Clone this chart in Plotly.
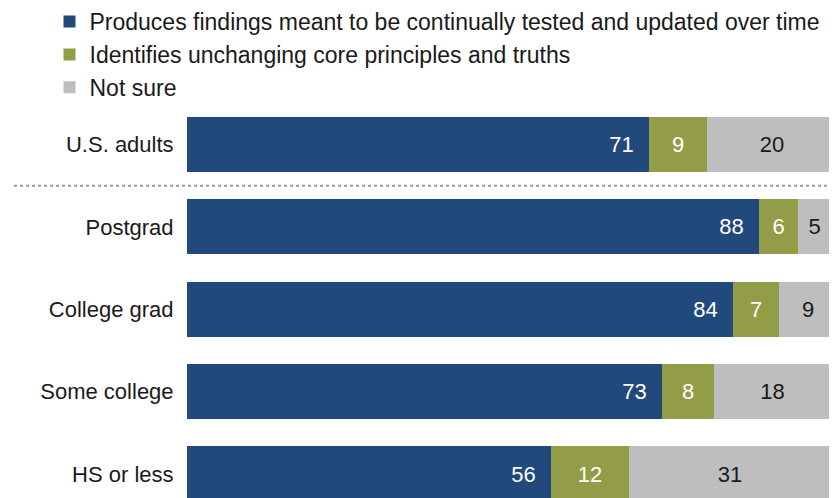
import plotly.graph_objects as go

categories = ["U.S. adults", "Postgrad", "College grad", "Some college", "HS or less"]
series_names = [
    "Produces findings meant to be continually tested and updated over time",
    "Identifies unchanging core principles and truths",
    "Not sure",
]
updated = [71, 88, 84, 73, 56]
unchanging = [9, 6, 7, 8, 12]
not_sure = [20, 5, 9, 18, 31]

colors = ["#21497C", "#939D48", "#BEBEBE"]
text_colors = ["white", "white", "#1a1a1a"]
anchors = ["end", "middle", "middle"]
suffix = ["\u00a0\u00a0", "", ""]

ypos = list(range(len(categories)))
fig = go.Figure()
for i, (name, vals) in enumerate(zip(series_names, [updated, unchanging, not_sure])):
    fig.add_trace(go.Bar(
        y=ypos, x=vals, name=name, orientation="h",
        marker=dict(color=colors[i], line=dict(width=0)),
        width=0.67,
        text=[str(v) + suffix[i] for v in vals],
        textposition="inside",
        insidetextanchor=anchors[i],
        textangle=0,
        textfont=dict(color=text_colors[i], size=22, family="Liberation Sans"),
        constraintext="none",
        legendgroup=str(i),
        hoverinfo="skip",
    ))

# page has an 8px body margin; figure coordinates are page - 8
pitch = 82.375
top_c = 144.5 - 8
H = 498
y_top = -top_c / pitch
y_bot = (H - top_c) / pitch
L = 187 - 8
PW = 650

fig.update_layout(
    width=837, height=498,
    margin=dict(l=L, r=837 - L - PW, t=0, b=0, autoexpand=False),
    barmode="stack",
    bargap=0,
    plot_bgcolor="white", paper_bgcolor="white",
    font=dict(family="Liberation Sans", size=22, color="#1a1a1a"),
    showlegend=True,
    legend=dict(
        x=(41.5 - L) / PW, y=1.016, xanchor="left", yanchor="top",
        traceorder="grouped", tracegroupgap=0,
        font=dict(size=23, color="#1a1a1a"),
        itemwidth=30, bgcolor="rgba(0,0,0,0)",
    ),
    xaxis=dict(range=[0, 100], visible=False, fixedrange=True),
    yaxis=dict(
        range=[y_bot, y_top],
        tickmode="array", tickvals=ypos, ticktext=categories,
        showgrid=False, zeroline=False, showline=False,
        ticks="outside", ticklen=8, tickcolor="white",
        tickfont=dict(size=22, color="#1a1a1a"),
    ),
    shapes=[dict(
        type="line", xref="paper", yref="y",
        x0=(14 - 187) / PW, x1=1, y0=0.5, y1=0.5,
        line=dict(color="#999999", width=2, dash="dot"),
    )],
)
fig.write_html("out.html")
